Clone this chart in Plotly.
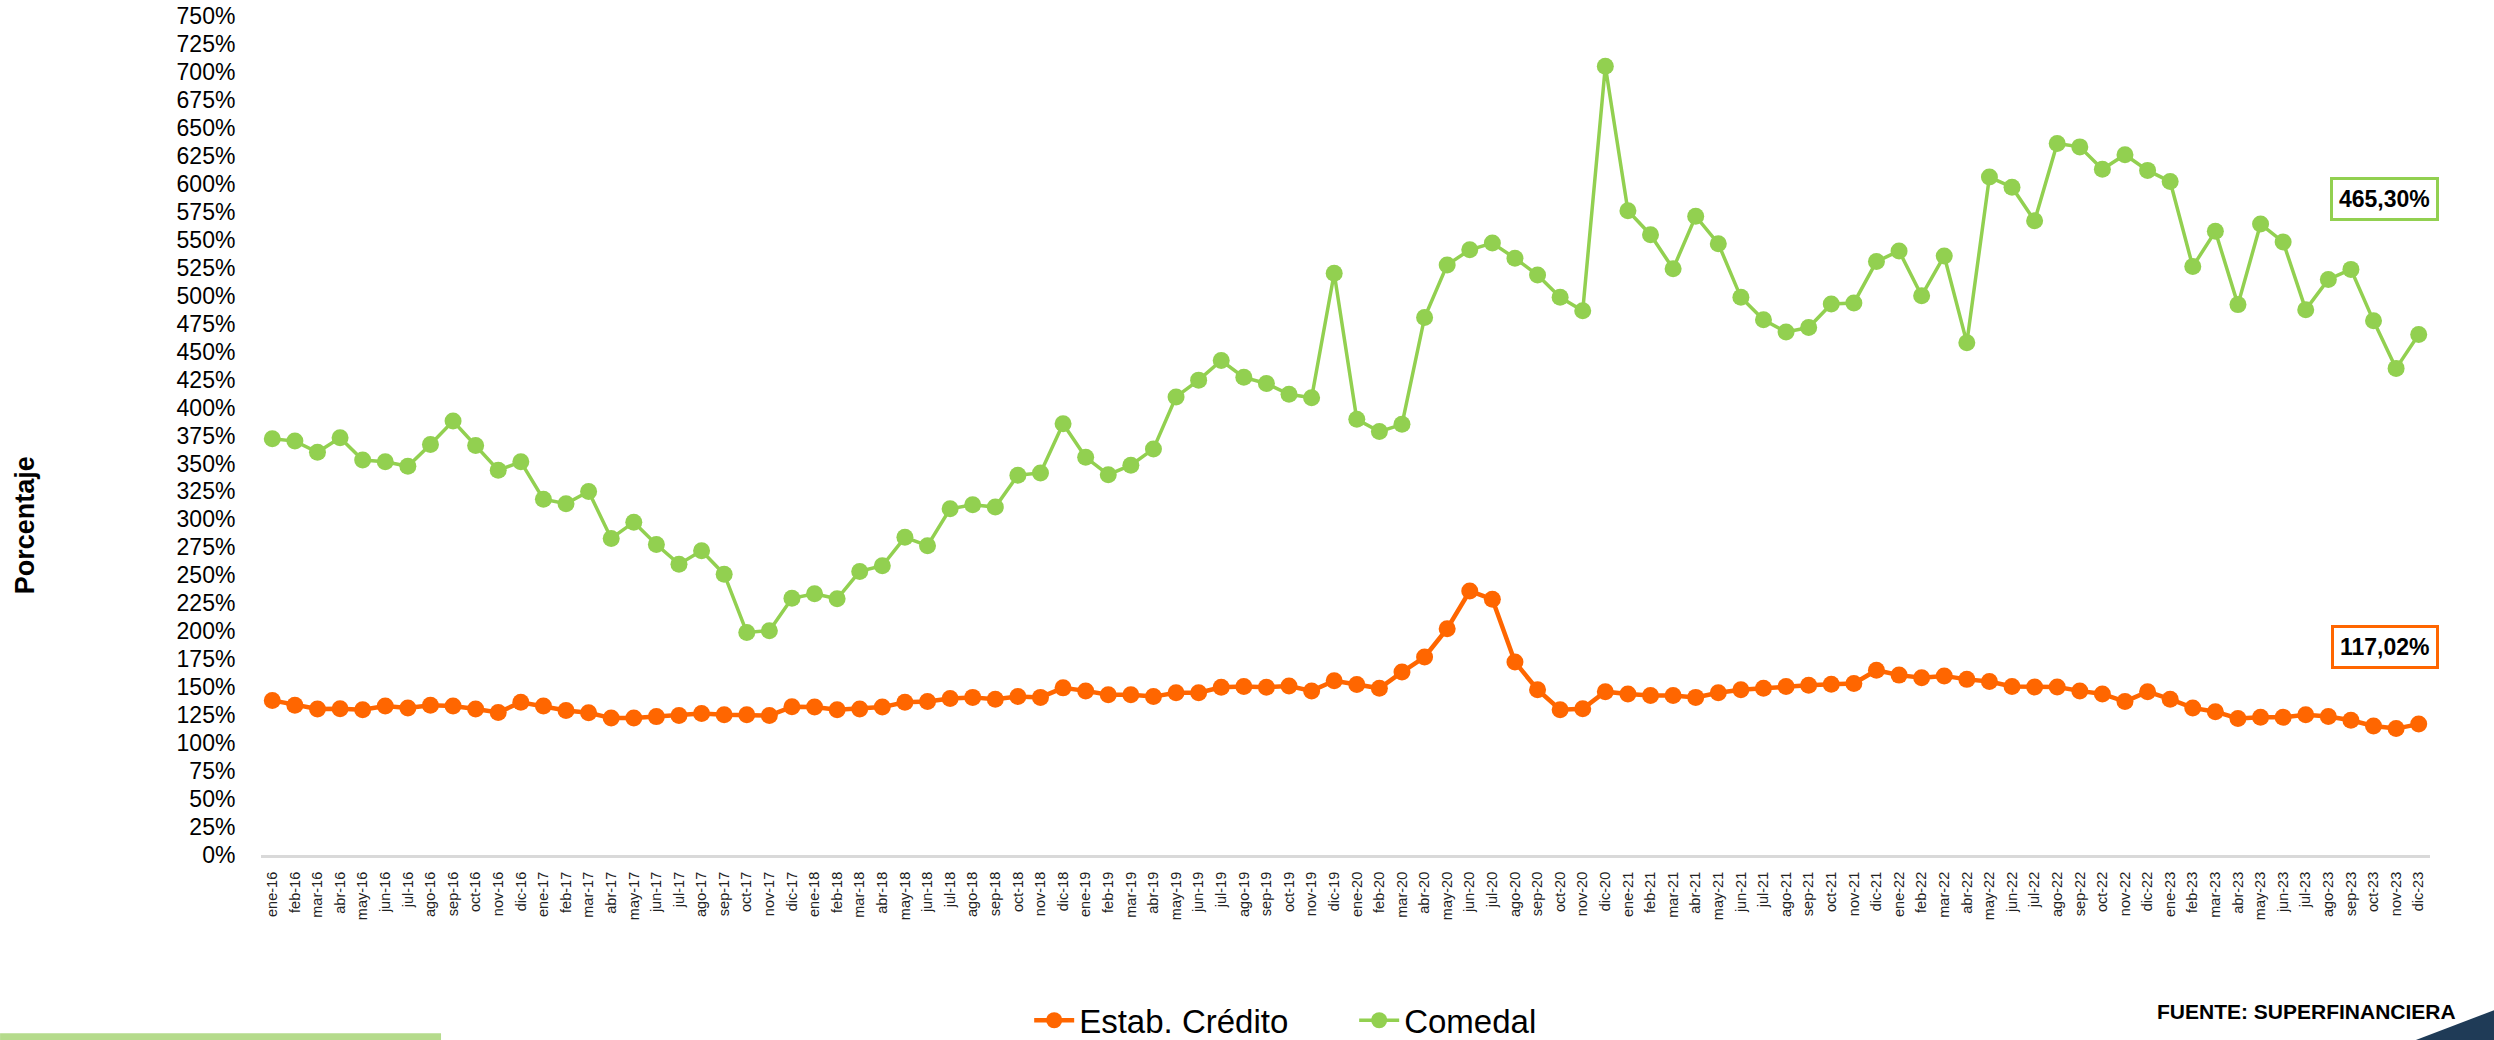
import plotly.graph_objects as go

meses = ["ene", "feb", "mar", "abr", "may", "jun", "jul", "ago", "sep", "oct", "nov", "dic"]
anios = ["16", "17", "18", "19", "20", "21", "22", "23"]
fechas = [f"{m}-{a}" for a in anios for m in meses]

estab_credito = [
    138.2, 133.9, 130.5, 130.8, 129.8, 133.2, 131.5, 133.9, 133.2, 130.5, 127.4, 136.5,
    133.2, 129.1, 127.1, 122.4, 122.4, 123.7, 124.7, 126.4, 125.4, 125.4, 124.7, 132.5,
    132.2, 129.8, 130.5, 132.2, 136.5, 137.2, 139.9, 140.9, 139.2, 141.6, 140.9, 149.4,
    146.7, 143.3, 143.3, 141.6, 145.0, 145.0, 150.0, 150.7, 150.0, 151.0, 146.7, 155.8,
    152.4, 149.0, 163.5, 177.0, 202.3, 236.0, 228.6, 172.6, 147.7, 129.8, 130.8, 146.0,
    144.0, 142.6, 142.6, 140.9, 145.0, 147.7, 149.0, 150.7, 151.7, 152.7, 153.4, 165.2,
    160.8, 158.5, 160.1, 157.0, 155.1, 150.7, 150.1, 150.1, 146.7, 144.0, 137.2, 146.0,
    139.3, 131.5, 128.1, 122.1, 123.1, 123.1, 125.4, 123.8, 120.4, 115.3, 113.0, 117.02,
]

comedal = [
    372.0, 370.0, 360.0, 373.0, 353.0, 351.5, 347.5, 367.0, 388.0, 366.0, 344.0, 351.5,
    318.0, 314.0, 325.0, 283.0, 297.5, 277.5, 260.0, 272.0, 251.0, 199.0, 200.5, 229.5,
    233.5, 229.0, 253.5, 258.5, 284.0, 276.5, 309.5, 313.0, 311.0, 339.5, 341.5, 385.5,
    355.5, 340.0, 348.5, 363.0, 409.5, 424.5, 442.0, 427.0, 421.5, 411.8, 408.8, 520.0,
    389.5, 378.5, 385.0, 480.5, 527.5, 541.0, 547.0, 533.5, 518.5, 498.5, 486.5, 705.0,
    576.0, 554.5, 524.0, 571.0, 546.5, 498.5, 478.5, 467.5, 471.5, 492.5, 493.5, 530.5,
    540.0, 500.0, 535.5, 458.0, 606.0, 597.0, 567.0, 636.0, 633.0, 613.0, 626.0, 612.0,
    602.0, 526.0, 557.5, 492.0, 564.0, 548.0, 487.5, 514.5, 523.5, 477.5, 435.0, 465.30,
]

NARANJA = "#FF6600"
VERDE = "#92D050"
FONT = "Liberation Sans, Arial, sans-serif"

fig = go.Figure()
fig.add_trace(go.Scatter(
    x=fechas, y=estab_credito, name="Estab. Crédito", mode="lines+markers",
    line=dict(color=NARANJA, width=4.5),
    marker=dict(color=NARANJA, size=17),
))
fig.add_trace(go.Scatter(
    x=fechas, y=comedal, name="Comedal", mode="lines+markers",
    line=dict(color=VERDE, width=3.5),
    marker=dict(color=VERDE, size=17),
))

# etiquetas del ultimo dato
fig.add_annotation(x=93.5, y=586, xref="x", yref="y", showarrow=False,
                   text="<b>465,30%</b>", font=dict(size=23, color="black", family=FONT),
                   bgcolor="white", bordercolor=VERDE, borderwidth=3, borderpad=6)
fig.add_annotation(x=93.5, y=186, xref="x", yref="y", showarrow=False,
                   text="<b>117,02%</b>", font=dict(size=23, color="black", family=FONT),
                   bgcolor="white", bordercolor=NARANJA, borderwidth=3, borderpad=6)

fig.add_annotation(x=-0.1088, y=0.393, xref="paper", yref="paper", showarrow=False,
                   xanchor="center", yanchor="middle",
                   text="<b>Porcentaje</b>", textangle=-90,
                   font=dict(size=27, color="black", family=FONT))
fig.add_annotation(x=0.943, y=-0.187, xref="paper", yref="paper", showarrow=False,
                   xanchor="center", yanchor="middle",
                   text="<b>FUENTE: SUPERFINANCIERA</b>",
                   font=dict(size=21, color="black", family=FONT))

# adornos de la diapositiva
fig.add_shape(type="rect", xref="paper", yref="paper", x0=-0.1203, x1=0.083,
              y0=-0.2205, y1=-0.2125, line_width=0, fillcolor="#B5DB8C", layer="below")
fig.add_shape(type="path", xref="paper", yref="paper",
              path="M 0.9935 -0.2205 L 1.0295 -0.2205 L 1.0295 -0.185 Z",
              line_width=0, fillcolor="#1F3B57")

fig.update_layout(
    width=2494, height=1040,
    margin=dict(l=261, r=64, t=16, b=185, autoexpand=False),
    plot_bgcolor="white", paper_bgcolor="white",
    font=dict(family=FONT, color="black"),
    showlegend=True,
    legend=dict(orientation="h", x=0.504, xanchor="center", y=-0.197, yanchor="middle",
                font=dict(size=33, family=FONT), itemwidth=40, entrywidth=270,
                bgcolor="rgba(0,0,0,0)"),
    hovermode="x unified",
)

fig.update_xaxes(
    type="category", range=[-0.5, 95.5],
    showline=True, linecolor="#D9D9D9", linewidth=3,
    showgrid=False, zeroline=False,
    tickangle=-90, tickfont=dict(size=14.5, color="#222222", family=FONT),
    ticks="outside", ticklen=8, tickcolor="rgba(0,0,0,0)",
)

fig.update_yaxes(
    range=[0, 750], dtick=25, tick0=0, ticksuffix="%",
    showline=False, showgrid=False, zeroline=False,
    tickfont=dict(size=23, color="black", family=FONT),
    ticks="outside", ticklen=20, tickcolor="rgba(0,0,0,0)",
)

fig.write_html("out.html", config={"displayModeBar": False},
               post_script="document.body.style.margin='0px'; document.body.style.overflow='hidden';")
